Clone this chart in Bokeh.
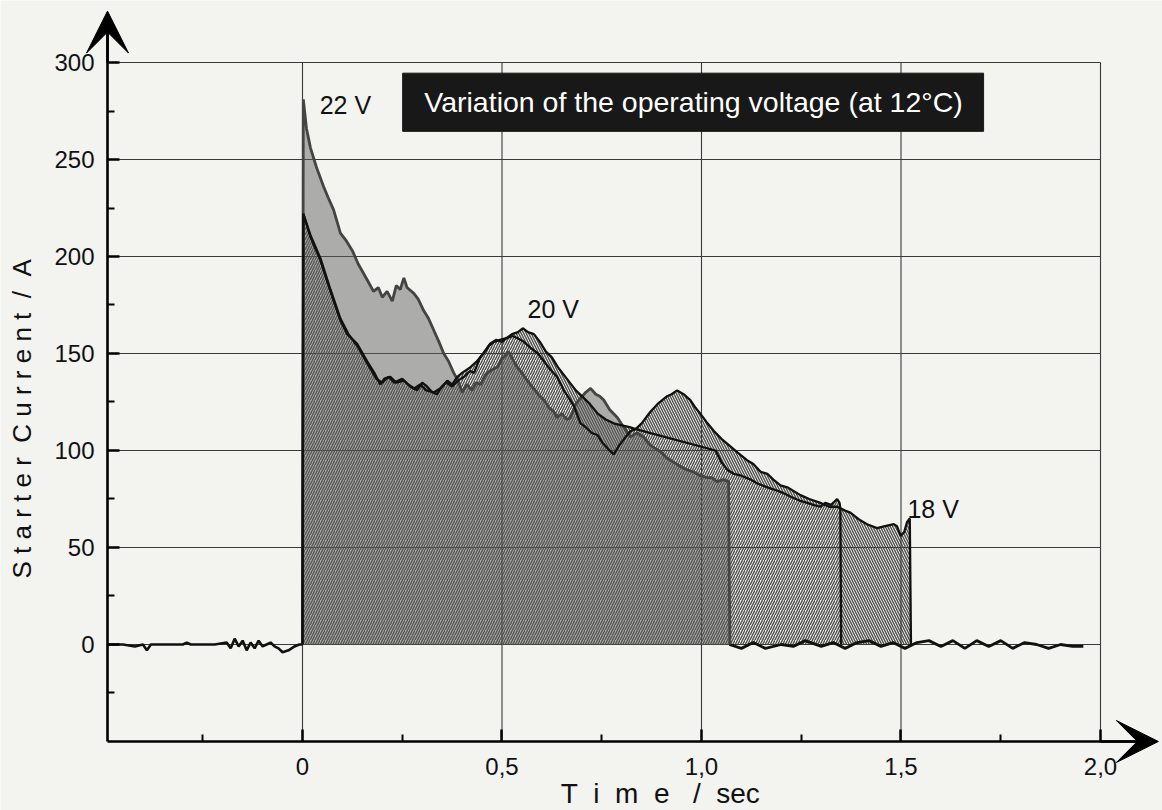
from math import pi
from bokeh.plotting import figure
from bokeh.models import Range1d, FixedTicker, Arrow, VeeHead, Label, ColumnDataSource
from bokeh.core.properties import value
from bokeh.embed import file_html
from bokeh.resources import INLINE

# ---------------- data ----------------
# 22 V trace (time in s, current in A)
t22 = [0.0, 0.002, 0.01, 0.02, 0.035, 0.053, 0.065, 0.078, 0.095, 0.11, 0.125, 0.14, 0.162, 0.178, 0.19, 0.2,
       0.212, 0.225, 0.235, 0.245, 0.254, 0.262, 0.279, 0.29, 0.304, 0.316, 0.329, 0.342, 0.354, 0.366, 0.379,
       0.39, 0.40, 0.412, 0.425, 0.435, 0.446, 0.458, 0.47, 0.488, 0.5, 0.516, 0.527, 0.538, 0.55, 0.56, 0.571,
       0.583, 0.595, 0.605, 0.618, 0.63, 0.638, 0.65, 0.662, 0.672, 0.685, 0.697, 0.71, 0.722, 0.735, 0.745,
       0.755, 0.77, 0.789, 0.805, 0.822, 0.838, 0.855, 0.87, 0.885, 0.9, 0.914, 0.93, 0.945, 0.964, 0.98, 0.997,
       1.015, 1.025, 1.039, 1.055, 1.068, 1.071]
i22 = [0, 281, 266, 256, 246, 236, 230, 224, 212, 208, 203, 196, 188, 182, 184, 179,
       182, 177, 185, 183, 189, 184, 181, 178, 172, 168, 162, 156, 150, 146, 140,
       136, 130, 134, 131, 135, 134, 139, 141, 143, 147, 151, 147, 143, 140, 137, 134,
       131, 128, 126, 122, 120, 117, 119, 116, 117, 124, 127, 130, 132, 129, 128,
       126, 121, 117, 112, 107, 109, 107, 103, 101, 99, 96, 94, 92, 90, 89, 87,
       86, 86, 84, 85, 84, 0]

# 20 V trace
t20 = [0.0, 0.002, 0.02, 0.045, 0.07, 0.095, 0.112, 0.137, 0.162, 0.18, 0.195, 0.205, 0.22, 0.235, 0.254,
       0.27, 0.287, 0.3, 0.312, 0.325, 0.337, 0.35, 0.363, 0.375, 0.388, 0.4, 0.421, 0.437, 0.454, 0.467,
       0.48, 0.495, 0.513, 0.526, 0.538, 0.555, 0.571, 0.59, 0.605, 0.62, 0.638, 0.655, 0.668, 0.68, 0.697,
       0.71, 0.725, 0.739, 0.752, 0.765, 0.78, 0.795, 0.81, 0.822, 0.835, 1.035, 1.05, 1.065, 1.081, 1.1,
       1.123, 1.14, 1.165, 1.18, 1.206, 1.225, 1.248, 1.265, 1.28, 1.298, 1.31, 1.325, 1.34, 1.346, 1.348, 1.35]
i20 = [0, 222, 210, 198, 182, 167, 160, 155, 146, 140, 134, 137, 138, 135, 136,
       133, 131, 135, 133, 130, 129, 133, 136, 134, 138, 140, 143, 146, 150, 154,
       156, 157, 158, 159, 158, 156, 153, 150, 146, 142, 138, 131, 127, 123, 114,
       112, 109, 108, 104, 101, 98, 103, 107, 110, 111, 100, 94, 90, 88, 87,
       85, 83, 81, 80, 78, 76, 74, 73, 72, 71, 73, 72, 75, 73, 70, 0]

# 18 V trace
t18 = [0.0, 0.002, 0.02, 0.045, 0.07, 0.095, 0.115, 0.14, 0.165, 0.185, 0.2, 0.215, 0.23, 0.25, 0.265, 0.28,
       0.295, 0.31, 0.33, 0.345, 0.36, 0.375, 0.39, 0.405, 0.42, 0.43, 0.445, 0.46, 0.47, 0.485, 0.5, 0.512,
       0.525, 0.54, 0.552, 0.565, 0.58, 0.595, 0.61, 0.625, 0.64, 0.655, 0.67, 0.685, 0.7, 0.72, 0.74, 0.76,
       0.78, 0.8, 0.82, 0.835, 0.85, 0.872, 0.89, 0.914, 0.925, 0.939, 0.955, 0.972, 0.985, 0.997, 1.015,
       1.031, 1.05, 1.073, 1.09, 1.114, 1.13, 1.148, 1.165, 1.18, 1.198, 1.215, 1.248, 1.27, 1.298, 1.32,
       1.34, 1.36, 1.373, 1.385, 1.398, 1.415, 1.44, 1.46, 1.482, 1.49, 1.499, 1.508, 1.515, 1.522, 1.525]
i18 = [0, 222, 211, 199, 183, 168, 160, 153, 144, 137, 135, 138, 135, 137, 134, 132,
       134, 131, 130, 132, 135, 133, 136, 138, 141, 140, 148, 152, 155, 157, 156, 158,
       160, 161, 163, 161, 160, 156, 151, 148, 143, 139, 135, 131, 128, 124, 119, 116,
       114, 113, 112, 111, 114, 120, 124, 128, 129, 131, 129, 126, 122, 119, 114,
       110, 106, 102, 99, 95, 93, 89, 88, 85, 82, 81, 77, 75, 73, 71,
       71, 69, 68, 66, 64, 62, 60, 61, 62, 61, 56, 58, 63, 65, 0]

# baseline before the start and after the end of cranking
t_pre = [-0.489, -0.45, -0.42, -0.40, -0.39, -0.38, -0.33, -0.30, -0.29, -0.28, -0.22, -0.19, -0.18, -0.17,
         -0.16, -0.15, -0.14, -0.13, -0.12, -0.11, -0.10, -0.09, -0.08, -0.07, -0.06, -0.05, -0.035, -0.02,
         -0.008, 0.0]
i_pre = [0, 0, -1, 0, -3, 0, 0, 0, 1, 0, 0, 1, -2, 3, -1, 2, -3, 1, -2, 2, -1, 0, 1, -1, -2, -4, -3, -1, 0, 0]
t_post = [1.07, 1.1, 1.13, 1.16, 1.2, 1.23, 1.26, 1.3, 1.33, 1.36, 1.39, 1.42, 1.45, 1.48, 1.51, 1.54, 1.57,
          1.6, 1.63, 1.66, 1.69, 1.72, 1.75, 1.78, 1.81, 1.84, 1.87, 1.9, 1.93, 1.957]
i_post = [0, -2, 1, -2, 0, -1, 2, -1, 1, -2, 1, 2, -1, 1, -2, 1, 2, -1, 2, -2, 2, -1, 2, -2, 1, 0, -2, 0, -1, -1]

# annotations
volt_labels = ["22 V", "20 V", "18 V"]
volt_label_t = [0.043, 0.564, 1.516]
volt_label_i = [278, 173, 70]
title_text = "Variation of the operating voltage (at 12\u00b0C)"

# axes
x_ticks = [0, 0.5, 1.0, 1.5, 2.0]
x_tick_labels = ["0", "0,5", "1,0", "1,5", "2,0"]
x_minor = [-0.25, 0.25, 0.75, 1.25, 1.75]
y_ticks = [0, 50, 100, 150, 200, 250, 300]
y_minor = [-25, 25, 75, 125, 175, 225, 275]
x_grid = [0, 0.5, 1.0, 1.5, 2.0]
y_grid = [0, 50, 100, 150, 200, 250, 300]

# ---------------- styling ----------------
FONT = "Liberation Sans"
BG = "#f3f3f0"
X0, Y0 = -0.4887, -50          # axis origin
XTIP, YTIP = 2.145, 326.5        # arrow tips
NB = "\u00a0"

# the frame covers the whole canvas; the axes are drawn at fixed locations inside it
p = figure(width=1162, height=810, output_backend="svg", toolbar_location=None,
           x_range=Range1d(-0.7569, 2.1554), y_range=Range1d(-85.57, 331.96),
           min_border=0)
p.background_fill_color = BG
p.border_fill_color = BG
p.outline_line_color = None
p.xgrid.visible = False
p.ygrid.visible = False

# fills (hatched 18 V and 20 V, shaded 22 V)
p.varea(x=t18, y1=0, y2=i18, fill_color=BG, hatch_pattern="\\", hatch_color="#303030",
        hatch_scale=5, hatch_weight=1.4, hatch_alpha=0.85)
p.varea(x=t20, y1=0, y2=i20, fill_color=BG, hatch_pattern="/", hatch_color="#303030",
        hatch_scale=5, hatch_weight=1.4, hatch_alpha=0.85)

# grid (box from the axes to 2.0 / 300)
p.segment(x0=x_grid, y0=[Y0] * len(x_grid), x1=x_grid, y1=[300] * len(x_grid),
          line_color="#3a3a3a", line_width=1.1)
p.segment(x0=[X0] * len(y_grid), y0=y_grid, x1=[2.0] * len(y_grid), y1=y_grid,
          line_color="#3a3a3a", line_width=1.1)

p.varea(x=t22, y1=0, y2=i22, fill_color="#5f5f5f", fill_alpha=0.48)

# traces
p.line(t_pre, i_pre, line_color="#111111", line_width=2.6)
p.line(t_post, i_post, line_color="#111111", line_width=2.8)
p.line(t22, i22, line_color="#444444", line_width=2.8)
p.line(t18, i18, line_color="#111111", line_width=2.3)
p.line(t20, i20, line_color="#111111", line_width=2.3)

# voltage labels
src = ColumnDataSource(dict(t=volt_label_t, i=volt_label_i, s=volt_labels))
p.text(x="t", y="i", text="s", source=src, text_font=value(FONT), text_font_size="25px",
       text_color="#111111", text_align="left", text_baseline="middle")

# title box
p.quad(left=0.251, right=1.707, top=294.5, bottom=264.5, fill_color="#181818", line_color="#181818")
p.text(x=[0.98], y=[279.5], text=[title_text], text_font=value(FONT), text_font_size="28.5px",
       text_color="white", text_align="center", text_baseline="middle")

# axes
xa = p.xaxis[0]
ya = p.yaxis[0]
xa.fixed_location = Y0
ya.fixed_location = X0
xa.bounds = (X0, XTIP - 0.05)
ya.bounds = (Y0, YTIP - 10)
xa.ticker = FixedTicker(ticks=x_ticks, minor_ticks=x_minor)
xa.major_label_overrides = {t: l for t, l in zip(x_ticks, x_tick_labels)}
ya.ticker = FixedTicker(ticks=y_ticks, minor_ticks=y_minor)
for ax in (xa, ya):
    ax.axis_line_color = "black"
    ax.axis_line_width = 2.6
    ax.major_tick_in = 12
    ax.major_tick_out = 0
    ax.minor_tick_in = 7
    ax.minor_tick_out = 0
    ax.major_tick_line_width = 2.5
    ax.minor_tick_line_width = 2
    ax.major_tick_line_color = "black"
    ax.minor_tick_line_color = "black"
    ax.major_label_text_font = FONT
    ax.major_label_text_font_size = "24px"
    ax.major_label_text_color = "#111111"
xa.major_label_standoff = 17
ya.major_label_standoff = 13

# arrow heads at the axis ends
p.add_layout(Arrow(end=VeeHead(size=42, fill_color="black", line_color="black", line_width=1),
                   x_start=X0, y_start=300, x_end=X0, y_end=YTIP, line_color="black", line_width=2.6))
p.add_layout(Arrow(end=VeeHead(size=42, fill_color="black", line_color="black", line_width=1),
                   x_start=2.0, y_start=Y0, x_end=XTIP, y_end=Y0, line_color="black", line_width=2.6))

# axis titles (letter-spaced)
ylab = NB.join("Starter") + NB * 2 + NB.join("Current") + NB * 2 + "/" + NB * 2 + "A"
xlab = (NB * 2).join("Time") + NB * 3 + "/" + NB * 2 + "sec"
p.add_layout(Label(x=-0.702, y=34, text=ylab, angle=pi / 2, text_font=FONT, text_font_size="26px",
                   text_color="#111111", text_align="left", text_baseline="middle"))
p.add_layout(Label(x=0.647, y=-76.8, text=xlab, text_font=FONT, text_font_size="28px",
                   text_color="#111111", text_align="left", text_baseline="middle"))

open("out.html", "w").write(file_html(p, INLINE))
